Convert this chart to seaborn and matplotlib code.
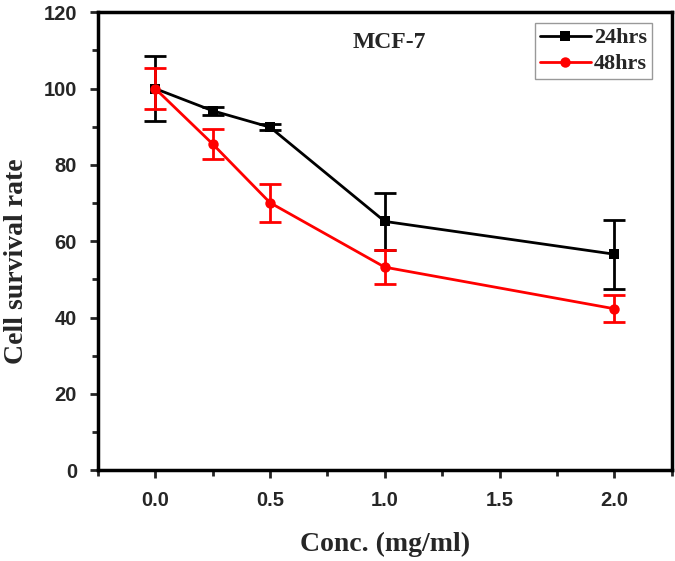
import matplotlib
matplotlib.use('Agg')
import matplotlib.pyplot as plt
import seaborn as sns
import pandas as pd
from matplotlib.ticker import MultipleLocator

# Данные
conc = [0.0, 0.25, 0.5, 1.0, 2.0]
rate_24 = [100.0, 94.2, 89.9, 65.2, 56.6]
err_24 = [8.5, 1.0, 0.8, 7.5, 9.0]
rate_48 = [100.0, 85.5, 70.1, 53.2, 42.3]
err_48 = [5.3, 3.9, 5.0, 4.5, 3.5]
series = ['24hrs', '48hrs']

sns.set_theme(style='ticks')
plt.rcParams['font.family'] = ['Liberation Sans', 'DejaVu Sans']

df = pd.DataFrame({
    'conc': conc * 2,
    'rate': rate_24 + rate_48,
    'series': [series[0]] * len(conc) + [series[1]] * len(conc),
})

fig, ax = plt.subplots(figsize=(6.75, 5.61), dpi=100)
fig.subplots_adjust(left=0.145, right=0.995, top=0.978, bottom=0.162)

palette = {'24hrs': 'black', '48hrs': 'red'}
markers = {'24hrs': 's', '48hrs': 'o'}
sns.lineplot(data=df, x='conc', y='rate', hue='series', style='series',
             palette=palette, markers=markers, dashes=False, linewidth=2,
             markersize=7.5, markeredgewidth=0, ax=ax, zorder=3)

for vals, errs, name in [(rate_24, err_24, '24hrs'), (rate_48, err_48, '48hrs')]:
    ax.errorbar(conc, vals, yerr=errs, fmt='none', ecolor=palette[name],
                elinewidth=2, capsize=8, capthick=2, zorder=2)

ax.xaxis.set_major_locator(MultipleLocator(0.5))
ax.xaxis.set_minor_locator(MultipleLocator(0.25))
ax.yaxis.set_major_locator(MultipleLocator(20))
ax.yaxis.set_minor_locator(MultipleLocator(10))
ax.tick_params(which='major', direction='out', length=6, width=2, labelsize=14.5, pad=9)
ax.tick_params(which='minor', direction='out', length=4, width=2)
xt = [0.0, 0.5, 1.0, 1.5, 2.0]
yt = [0, 20, 40, 60, 80, 100, 120]
ax.set_xticks(xt)
ax.set_xticklabels([f'{t:.1f}' for t in xt], fontweight='bold')
ax.set_yticks(yt)
ax.set_yticklabels([str(t) for t in yt], fontweight='bold')
ax.set_xlim(-0.25, 2.25)
ax.set_ylim(0, 120)

for sp in ax.spines.values():
    sp.set_visible(True)
    sp.set_linewidth(2.5)
    sp.set_color('black')

ax.set_xlabel('Conc. (mg/ml)', family='Liberation Serif', fontweight='bold',
              fontsize=20, labelpad=16)
ax.set_ylabel('Cell survival rate', family='Liberation Serif', fontweight='bold',
              fontsize=20)
ax.yaxis.set_label_coords(-0.12, 0.456)

ax.text(1.02, 112, 'MCF-7', family='Liberation Serif', fontweight='bold',
        fontsize=17, ha='center', va='center')

leg = ax.legend(loc='upper right', bbox_to_anchor=(0.965, 0.976), borderaxespad=0,
                frameon=True, fancybox=False, handlelength=2.3,
                borderpad=0.2, labelspacing=0.25, handletextpad=0.15,
                prop={'family': 'Liberation Serif', 'weight': 'bold', 'size': 16})
leg.get_frame().set_edgecolor('grey')
leg.get_frame().set_linewidth(1)

fig.savefig('out.png', dpi=100)
